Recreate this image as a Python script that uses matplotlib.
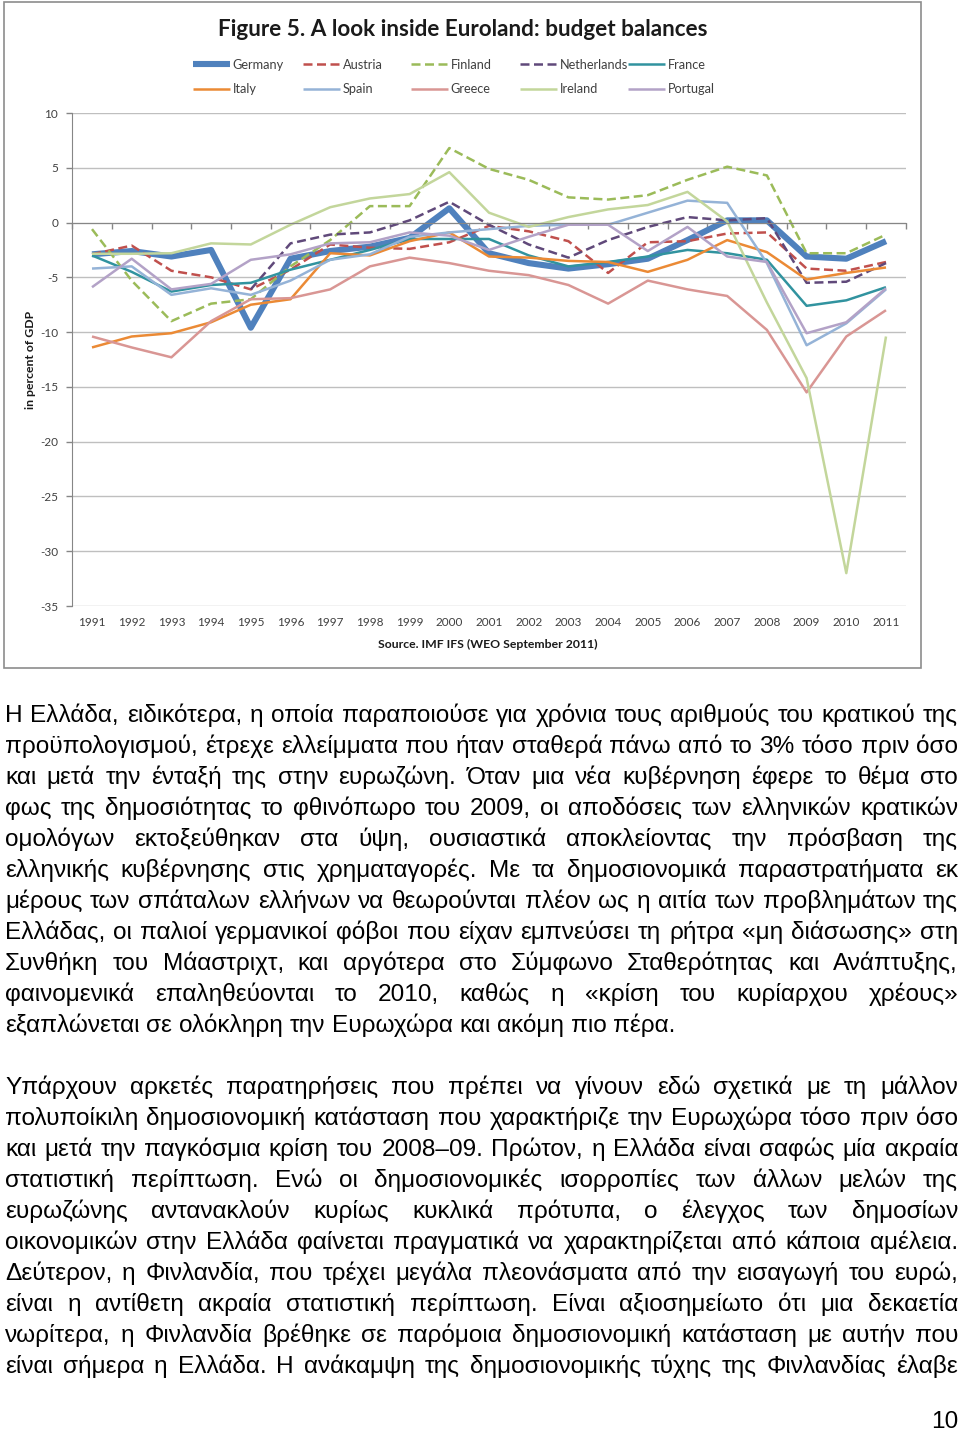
import matplotlib
matplotlib.use("Agg")
import matplotlib.pyplot as plt
from matplotlib.patches import Rectangle
import numpy as np

# ---------------- data ----------------
nan = float("nan")
years = list(range(1991, 2012))
germany = [-2.9, -2.6, -3.1, -2.5, -9.6, -3.3, -2.6, -2.2, -1.4, 1.3, -2.8, -3.7, -4.2, -3.8, -3.3, -1.6, 0.2, 0.2, -3.1, -3.3, -1.7]
austria = [-2.9, -2.1, -4.4, -5.0, -6.1, -4.3, -2.0, -2.3, -2.4, -1.8, -0.3, -0.8, -1.7, -4.6, -1.8, -1.7, -1.0, -0.9, -4.2, -4.4, -3.6]
finland = [-0.6, -5.3, -9.0, -7.4, -7.0, -4.0, -1.6, 1.5, 1.5, 6.8, 4.9, 3.9, 2.3, 2.1, 2.5, 3.9, 5.1, 4.3, -2.8, -2.8, -1.1]
netherlands = [nan, nan, nan, nan, -6.1, -1.9, -1.1, -0.9, 0.2, 1.9, -0.2, -2.0, -3.2, -1.6, -0.4, 0.5, 0.2, 0.4, -5.5, -5.4, -3.7]
france = [-3.0, -4.5, -6.3, -5.7, -5.5, -4.3, -3.4, -2.5, -1.5, -1.5, -1.5, -3.0, -4.0, -3.6, -3.1, -2.5, -2.8, -3.4, -7.6, -7.1, -5.9]
italy = [-11.4, -10.4, -10.1, -9.1, -7.5, -7.0, -2.8, -3.0, -1.7, -0.9, -3.1, -3.2, -3.5, -3.6, -4.5, -3.4, -1.6, -2.7, -5.2, -4.6, -4.1]
spain = [-4.2, -4.0, -6.6, -6.0, -6.6, -5.3, -3.4, -2.9, -1.3, -0.9, -0.6, -0.3, -0.2, -0.2, 0.9, 2.0, 1.8, -3.7, -11.2, -9.2, -6.1]
greece = [-10.4, -11.4, -12.3, -9.0, -7.0, -6.9, -6.1, -4.0, -3.2, -3.7, -4.4, -4.8, -5.7, -7.4, -5.3, -6.1, -6.7, -9.8, -15.5, -10.4, -8.0]
ireland = [-2.85, -2.85, -2.8, -1.9, -2.0, -0.2, 1.4, 2.2, 2.6, 4.6, 0.9, -0.4, 0.5, 1.2, 1.6, 2.8, 0.1, -7.3, -14.2, -32.0, -10.4]
portugal = [-5.9, -3.3, -6.1, -5.6, -3.4, -2.9, -1.9, -1.8, -0.9, -1.2, -2.5, -1.3, -0.2, -0.2, -2.6, -0.4, -3.1, -3.6, -10.1, -9.1, -6.0]

series_names = ["Germany", "Austria", "Finland", "Netherlands", "France",
                "Italy", "Spain", "Greece", "Ireland", "Portugal"]
series_values = [germany, austria, finland, netherlands, france,
                 italy, spain, greece, ireland, portugal]
yticks = [10, 5, 0, -5, -10, -15, -20, -25, -30, -35]

title = "Figure 5. A look inside Euroland: budget balances"
ylabel = "in percent of GDP"
source = "Source. IMF IFS (WEO September 2011)"

para1 = [
    "Η Ελλάδα, ειδικότερα, η οποία παραποιούσε για χρόνια τους αριθμούς του κρατικού της",
    "προϋπολογισμού, έτρεχε ελλείμματα που ήταν σταθερά πάνω από το 3% τόσο πριν όσο",
    "και μετά την ένταξή της στην ευρωζώνη. Όταν μια νέα κυβέρνηση έφερε το θέμα στο",
    "φως της δημοσιότητας το φθινόπωρο του 2009, οι αποδόσεις των ελληνικών κρατικών",
    "ομολόγων εκτοξεύθηκαν στα ύψη, ουσιαστικά αποκλείοντας την πρόσβαση της",
    "ελληνικής κυβέρνησης στις χρηματαγορές. Με τα δημοσιονομικά παραστρατήματα εκ",
    "μέρους των σπάταλων ελλήνων να θεωρούνται πλέον ως η αιτία των προβλημάτων της",
    "Ελλάδας, οι παλιοί γερμανικοί φόβοι που είχαν εμπνεύσει τη ρήτρα «μη διάσωσης» στη",
    "Συνθήκη του Μάαστριχτ, και αργότερα στο Σύμφωνο Σταθερότητας και Ανάπτυξης,",
    "φαινομενικά επαληθεύονται το 2010, καθώς η «κρίση του κυρίαρχου χρέους»",
    "εξαπλώνεται σε ολόκληρη την Ευρωχώρα και ακόμη πιο πέρα.",
]
para2 = [
    "Υπάρχουν αρκετές παρατηρήσεις που πρέπει να γίνουν εδώ σχετικά με τη μάλλον",
    "πολυποίκιλη δημοσιονομική κατάσταση που χαρακτήριζε την Ευρωχώρα τόσο πριν όσο",
    "και μετά την παγκόσμια κρίση του 2008–09. Πρώτον, η Ελλάδα είναι σαφώς μία ακραία",
    "στατιστική περίπτωση. Ενώ οι δημοσιονομικές ισορροπίες των άλλων μελών της",
    "ευρωζώνης αντανακλούν κυρίως κυκλικά πρότυπα, ο έλεγχος των δημοσίων",
    "οικονομικών στην Ελλάδα φαίνεται πραγματικά να χαρακτηρίζεται από κάποια αμέλεια.",
    "Δεύτερον, η Φινλανδία, που τρέχει μεγάλα πλεονάσματα από την εισαγωγή του ευρώ,",
    "είναι η αντίθετη ακραία στατιστική περίπτωση. Είναι αξιοσημείωτο ότι μια δεκαετία",
    "νωρίτερα, η Φινλανδία βρέθηκε σε παρόμοια δημοσιονομική κατάσταση με αυτήν που",
    "είναι σήμερα η Ελλάδα. Η ανάκαμψη της δημοσιονομικής τύχης της Φινλανδίας έλαβε",
]
page_number = "10"

# ---------------- styles ----------------
colors = ["#4F81BD", "#C0504D", "#9BBB59", "#60497A", "#31939F",
          "#EB8A35", "#95B3D7", "#D99694", "#C3D69B", "#B3A2C7"]
dashed = [False, True, True, True, False, False, False, False, False, False]
widths = [4.4, 1.8, 1.8, 1.8, 1.8, 1.8, 1.8, 1.8, 1.8, 1.8]

W, H = 960, 1432
def fx(x): return x / W
def fy(y): return 1 - y / H

chart_font = ["Lato", "DejaVu Sans"]
body_font = ["Liberation Sans", "DejaVu Sans"]
gray = "#868686"
txtc = "#404040"

fig = plt.figure(figsize=(W / 100, H / 100), dpi=100)
fig.patch.set_facecolor("white")

ax = fig.add_axes([fx(72.15), fy(606), fx(905.85) - fx(72.15), fy(113) - fy(606)])
handles = []
for name, vals, c, d, lw in zip(series_names, series_values, colors, dashed, widths):
    ln, = ax.plot(years, vals, color=c, lw=lw, label=name,
                  solid_joinstyle="round", solid_capstyle="butt")
    if d:
        ln.set_dashes((3.6, 1.8))
    handles.append(ln)

ax.set_xlim(1990.5, 2011.5)
ax.set_ylim(-35, 10)
ax.set_yticks(yticks)
ax.set_yticklabels([str(v) for v in yticks], fontsize=8.5, color=txtc, family=chart_font)
ax.tick_params(axis="y", length=4, width=1, color=gray, pad=6)
ax.yaxis.grid(True, color="#bfbfbf", lw=1)
ax.set_axisbelow(True)
for s in ["top", "right"]:
    ax.spines[s].set_visible(False)
ax.spines["left"].set_color(gray)
ax.spines["bottom"].set_position(("data", 0))
ax.spines["bottom"].set_color(gray)
ax.set_xticks(np.arange(1990.5, 2012, 1))
ax.tick_params(axis="x", length=4, width=1, color=gray, labelbottom=False)

sec = ax.secondary_xaxis("bottom")
sec.set_xticks(years)
sec.set_xticklabels([str(y) for y in years], fontsize=8.5, color=txtc, family=chart_font)
sec.tick_params(length=0, pad=8)
sec.spines["bottom"].set_visible(False)

# legend: five columns, two rows
col_x = [193, 303, 411, 520, 628]
for i in range(5):
    hs = [handles[i], handles[i + 5]]
    lg = fig.legend(handles=hs, labels=[h.get_label() for h in hs],
                    loc="center left", bbox_to_anchor=(fx(col_x[i]), fy(77)),
                    bbox_transform=fig.transFigure, frameon=False,
                    borderpad=0, borderaxespad=0, handlelength=2.9,
                    handletextpad=0.2, labelspacing=0.95,
                    prop={"family": chart_font, "size": 9.2})
    for t in lg.get_texts():
        t.set_color(txtc)

fig.text(fx(463), fy(30), title, ha="center", va="center", fontsize=16.2,
         fontweight="bold", family=chart_font, color="#1a1a1a")
fig.text(fx(30), fy(360), ylabel, ha="center", va="center", rotation=90,
         fontsize=8.8, fontweight="bold", family=chart_font, color="#1a1a1a")
fig.text(fx(488), fy(644), source, ha="center", va="center", fontsize=8.8,
         fontweight="bold", family=chart_font, color="#1a1a1a")

fig.add_artist(Rectangle((fx(4), fy(668)), fx(921) - fx(4), fy(2) - fy(668),
                         transform=fig.transFigure, fill=False,
                         edgecolor="#8c8c8c", lw=1.2))

# ---------------- body text (justified) ----------------
renderer = fig.canvas.get_renderer()

def measure(s, fs):
    t = fig.text(0, 0, s, fontsize=fs, family=body_font)
    w = t.get_window_extent(renderer).width
    t.remove()
    return w

ref_fs = 10
target_last = 672.0
fs_body = ref_fs * target_last / measure(para1[-1], ref_fs)

left, right = 5, 958
space_w = measure("x x", fs_body) - measure("xx", fs_body)

def draw_line(line, yb, justify):
    words = line.split(" ")
    ws = [measure(w, fs_body) for w in words]
    if justify and len(words) > 1:
        gap = (right - left - sum(ws)) / (len(words) - 1)
    else:
        gap = space_w
    x = left
    for w, wd in zip(words, ws):
        fig.text(fx(x), fy(yb), w, fontsize=fs_body, family=body_font,
                 ha="left", va="baseline", color="black")
        x += wd + gap

for i, line in enumerate(para1):
    draw_line(line, 722 + 31 * i, justify=(i < len(para1) - 1))
for i, line in enumerate(para2):
    draw_line(line, 1094 + 31 * i, justify=True)

fig.text(fx(958), fy(1428), page_number, ha="right", va="baseline",
         fontsize=fs_body, family=body_font, color="black")

fig.savefig("out.png", dpi=100, facecolor="white")
